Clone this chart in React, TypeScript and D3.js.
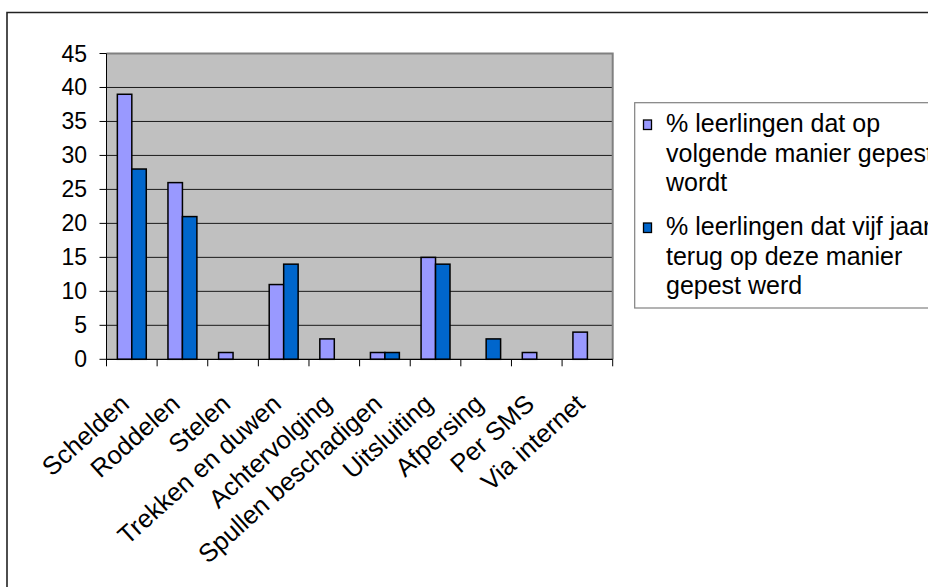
import React from "react";
import * as d3 from "d3";

const categories = [
  "Schelden",
  "Roddelen",
  "Stelen",
  "Trekken en duwen",
  "Achtervolging",
  "Spullen beschadigen",
  "Uitsluiting",
  "Afpersing",
  "Per SMS",
  "Via internet",
];
const seriesNames = [
  ["% leerlingen dat op", "volgende manier gepest", "wordt"],
  ["% leerlingen dat vijf jaar", "terug op deze manier", "gepest werd"],
];
const seriesNow = [39, 26, 1, 11, 3, 1, 15, 0, 1, 4];
const seriesPast = [28, 21, 0, 14, 0, 1, 14, 3, 0, 0];
const yTicks = [0, 5, 10, 15, 20, 25, 30, 35, 40, 45];
const colors = ["#9999FF", "#0066CC"];

const W = 928;
const H = 587;
const plot = { left: 106.5, right: 612.7, top: 53.5, bottom: 359.3 };
const FONT = "'Liberation Sans', Arial, sans-serif";

export default function App() {
  const x = d3
    .scaleBand<string>()
    .domain(categories)
    .range([plot.left, plot.right])
    .paddingInner(0)
    .paddingOuter(0);
  const y = d3.scaleLinear().domain([0, 45]).range([plot.bottom, plot.top]);
  const bw = x.bandwidth() / 3.5;
  const off = bw * 0.75;
  const data = [seriesNow, seriesPast];
  const legendBase = [132, 235];

  return (
    <svg
      width={W}
      height={H}
      style={{ position: "absolute", left: 0, top: 0, background: "#fff" }}
      fontFamily={FONT}
    >
      <rect x={0} y={0} width={W} height={H} fill="#fff" />
      {/* outer frame */}
      <path d={`M7,${H + 5} V12.5 H${W + 5}`} fill="none" stroke="#222" strokeWidth={1.6} />
      {/* plot background */}
      <rect
        x={plot.left}
        y={plot.top}
        width={plot.right - plot.left}
        height={plot.bottom - plot.top}
        fill="#C0C0C0"
      />
      {/* gridlines */}
      {yTicks
        .filter((t) => t > 0 && t < 45)
        .map((t) => (
          <line
            key={t}
            x1={plot.left}
            x2={plot.right}
            y1={y(t)}
            y2={y(t)}
            stroke="#1a1a1a"
            strokeWidth={1}
          />
        ))}
      {/* plot border top/right */}
      <path
        d={`M${plot.left},${plot.top} H${plot.right} V${plot.bottom}`}
        fill="none"
        stroke="#808080"
        strokeWidth={2}
      />
      {/* bars */}
      {data.map((s, si) =>
        s.map((v, i) =>
          v > 0 ? (
            <rect
              key={`${si}-${i}`}
              x={(x(categories[i]) as number) + off + si * bw}
              y={y(v)}
              width={bw}
              height={y(0) - y(v)}
              fill={colors[si]}
              stroke="#000"
              strokeWidth={1.5}
            />
          ) : null
        )
      )}
      {/* axes */}
      <line x1={plot.left} x2={plot.left} y1={plot.top} y2={plot.bottom + 7} stroke="#000" strokeWidth={1} />
      <line x1={plot.left} x2={plot.right} y1={plot.bottom} y2={plot.bottom} stroke="#000" strokeWidth={1.2} />
      {yTicks.map((t) => (
        <g key={t}>
          <line x1={plot.left - 7} x2={plot.left} y1={y(t)} y2={y(t)} stroke="#000" strokeWidth={1} />
          <text
            x={87}
            y={y(t)}
            textAnchor="end"
            dominantBaseline="central"
            fontSize={23}
            fill="#000"
          >
            {t}
          </text>
        </g>
      ))}
      {categories.map((c) => (
        <line
          key={c}
          x1={(x(c) as number) + x.bandwidth()}
          x2={(x(c) as number) + x.bandwidth()}
          y1={plot.bottom}
          y2={plot.bottom + 7}
          stroke="#000"
          strokeWidth={1}
        />
      ))}
      {categories.map((c) => (
        <text
          key={c}
          transform={`translate(${(x(c) as number) + x.bandwidth() / 2 - 1},${406}) rotate(-42)`}
          textAnchor="end"
          fontSize={25.5}
          fill="#000"
        >
          {c}
        </text>
      ))}
      {/* legend */}
      <rect x={634.7} y={102.7} width={W} height={205.3} fill="#fff" stroke="#808080" strokeWidth={1.2} />
      {seriesNames.map((lines, si) => {
        const base = legendBase[si];
        return (
          <g key={si}>
            <rect
              x={643.5}
              y={base - 12}
              width={8}
              height={9.5}
              fill={colors[si]}
              stroke="#000"
              strokeWidth={1.3}
            />
            {lines.map((ln, li) => (
              <text key={li} x={666} y={base + li * 29.5} fontSize={25} fill="#000">
                {ln}
              </text>
            ))}
          </g>
        );
      })}
    </svg>
  );
}
